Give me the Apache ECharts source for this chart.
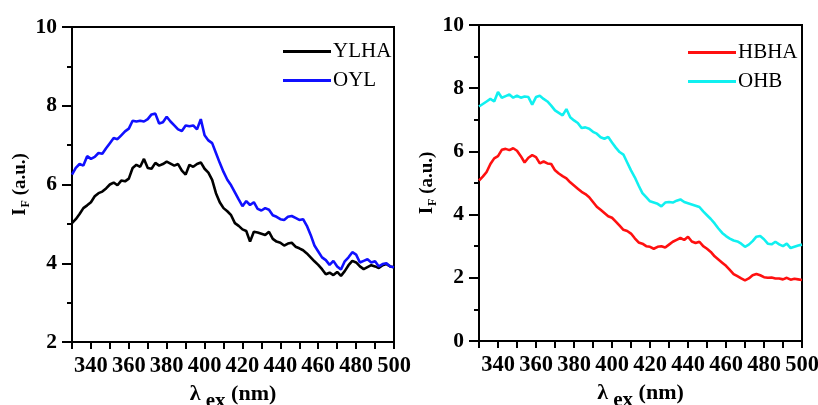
<!DOCTYPE html>
<html>
<head>
<meta charset="utf-8">
<script src="https://cdn.jsdelivr.net/npm/echarts@6/dist/echarts.min.js"></script>
<style>
  html, body { margin: 0; padding: 0; background: #fff; }
  #chart { width: 818px; height: 405px; }
</style>
</head>
<body>
<div id="chart"></div>
<script>
// Excitation wavelength grid (nm), shared by all four spectra
const wavelength = [
  330,332,334,336,338,340,342,344,346,348,350,352,354,356,358,360,362,364,366,368,
  370,372,374,376,378,380,382,384,386,388,390,392,394,396,398,400,402,404,406,408,
  410,412,414,416,418,420,422,424,426,428,430,432,434,436,438,440,442,444,446,448,
  450,452,454,456,458,460,462,464,466,468,470,472,474,476,478,480,482,484,486,488,
  490,492,494,496,498,500
];

// Left panel
const ylha = [
  5.02,5.12,5.25,5.40,5.47,5.55,5.70,5.78,5.82,5.90,6.00,6.05,5.98,6.10,6.08,6.15,6.42,6.50,6.45,6.65,
  6.42,6.40,6.55,6.48,6.52,6.58,6.53,6.48,6.52,6.35,6.25,6.50,6.45,6.52,6.56,6.40,6.30,6.12,5.78,5.55,
  5.40,5.32,5.22,5.02,4.95,4.86,4.82,4.55,4.80,4.78,4.75,4.72,4.80,4.62,4.55,4.52,4.45,4.50,4.52,4.42,
  4.38,4.33,4.25,4.15,4.05,3.96,3.85,3.72,3.76,3.70,3.78,3.68,3.80,3.95,4.06,4.02,3.92,3.85,3.90,3.95,
  3.92,3.88,3.95,3.98,3.92,3.90
];
const oyl = [
  6.25,6.42,6.52,6.48,6.72,6.65,6.70,6.80,6.78,6.92,7.05,7.18,7.15,7.25,7.35,7.42,7.62,7.60,7.62,7.60,
  7.66,7.78,7.80,7.55,7.58,7.72,7.60,7.50,7.40,7.36,7.50,7.48,7.50,7.40,7.66,7.25,7.12,7.05,6.80,6.55,
  6.32,6.12,5.98,5.80,5.62,5.45,5.58,5.48,5.55,5.38,5.34,5.40,5.36,5.22,5.18,5.12,5.10,5.18,5.20,5.15,
  5.10,5.12,4.95,4.72,4.45,4.30,4.15,4.08,3.96,4.06,3.92,3.84,4.05,4.15,4.28,4.22,4.02,4.06,4.10,4.02,
  4.05,3.92,3.98,4.00,3.92,3.90
];

// Right panel
const hbha = [
  5.08,5.20,5.35,5.60,5.78,5.85,6.05,6.08,6.04,6.10,6.02,5.85,5.65,5.80,5.88,5.82,5.62,5.68,5.62,5.60,
  5.40,5.30,5.22,5.15,5.02,4.92,4.82,4.72,4.65,4.55,4.40,4.25,4.15,4.05,3.95,3.90,3.78,3.65,3.52,3.48,
  3.40,3.25,3.12,3.08,3.00,2.98,2.92,2.98,3.00,2.96,3.05,3.14,3.20,3.26,3.20,3.30,3.15,3.10,3.14,3.00,
  2.92,2.82,2.68,2.58,2.48,2.38,2.25,2.12,2.05,1.98,1.92,1.98,2.08,2.12,2.08,2.02,2.00,2.01,1.98,1.98,
  1.95,2.00,1.94,1.97,1.95,1.93
];
const ohb = [
  7.42,7.50,7.58,7.66,7.58,7.88,7.70,7.75,7.80,7.70,7.76,7.70,7.74,7.72,7.48,7.72,7.76,7.66,7.58,7.45,
  7.30,7.22,7.14,7.34,7.08,6.98,6.90,6.74,6.76,6.72,6.62,6.56,6.45,6.40,6.46,6.28,6.12,5.98,5.90,5.65,
  5.40,5.18,4.92,4.68,4.55,4.42,4.38,4.34,4.26,4.38,4.40,4.38,4.44,4.48,4.40,4.36,4.32,4.28,4.24,4.10,
  3.98,3.86,3.72,3.56,3.42,3.32,3.24,3.18,3.15,3.08,2.98,3.05,3.16,3.30,3.32,3.22,3.08,3.06,3.14,3.06,
  3.00,3.08,2.94,2.98,3.02,3.05
];

// Axis settings
const xRange = [330, 500];
const xLabelStep = 20;
const xLabelStart = 340;
const leftYRange = [2, 10];
const rightYRange = [0, 10];

const serif = "'Liberation Serif', 'Times New Roman', serif";

function pairs(ys) {
  return wavelength.map((x, i) => [x, ys[i]]);
}

function xAxisFor(gridIndex) {
  return {
    type: 'value', gridIndex,
    min: xRange[0], max: xRange[1], interval: 10,
    axisLine: { show: true, onZero: false, lineStyle: { color: '#000', width: 2 } },
    axisTick: { show: true, inside: false, length: 7, lineStyle: { color: '#000', width: 2 } },
    axisLabel: {
      show: true, margin: 13, showMinLabel: true, showMaxLabel: true,
      color: '#000', fontFamily: serif, fontWeight: 'bold', fontSize: 22.5,
      formatter: v => ((v - xLabelStart) % xLabelStep === 0 ? String(v) : '')
    },
    splitLine: { show: false },
    name: '{l|λ}{s| ex}{n| (nm)}',
    nameLocation: 'middle', nameGap: 31,
    nameTextStyle: {
      color: '#000', fontFamily: serif, fontWeight: 'bold', fontSize: 22,
      rich: {
        l: { fontFamily: serif, fontWeight: 'bold', fontSize: 22, color: '#000' },
        s: { fontFamily: serif, fontWeight: 'bold', fontSize: 21, color: '#000', padding: [16, 0, 0, 0] },
        n: { fontFamily: serif, fontWeight: 'bold', fontSize: 22, color: '#000' }
      }
    }
  };
}

function yAxisFor(gridIndex, range) {
  return {
    type: 'value', gridIndex,
    min: range[0], max: range[1], interval: 2,
    axisLine: { show: true, onZero: false, lineStyle: { color: '#000', width: 2 } },
    axisTick: { show: true, inside: false, length: 10, lineStyle: { color: '#000', width: 2 } },
    minorTick: { show: true, splitNumber: 2, length: 5, lineStyle: { color: '#000', width: 2 } },
    axisLabel: {
      show: true, margin: 15, showMinLabel: true, showMaxLabel: true,
      color: '#000', fontFamily: serif, fontWeight: 'bold', fontSize: 21.5
    },
    splitLine: { show: false },
    minorSplitLine: { show: false },
    name: '{i|I}{f|F}{n| (a.u.)}',
    nameLocation: 'middle', nameGap: 40, nameRotate: 90,
    nameTextStyle: {
      color: '#000', fontFamily: serif, fontWeight: 'bold', fontSize: 19,
      rich: {
        i: { fontFamily: serif, fontWeight: 'bold', fontSize: 19, color: '#000' },
        f: { fontFamily: serif, fontWeight: 'bold', fontSize: 12, color: '#000', padding: [12, 0, 0, 1] },
        n: { fontFamily: serif, fontWeight: 'bold', fontSize: 19, color: '#000' }
      }
    }
  };
}

function lineSeries(name, ys, color, axisIndex) {
  return {
    name, type: 'line', xAxisIndex: axisIndex, yAxisIndex: axisIndex,
    data: pairs(ys), symbol: 'none', smooth: false,
    lineStyle: { color, width: 2.6 }, itemStyle: { color },
    animation: false
  };
}

function legendFor(names, left, top) {
  return {
    data: names, orient: 'vertical', left, top,
    itemWidth: 48, itemHeight: 20, itemGap: 8,
    icon: 'path://M0,8.5 L48,8.5 L48,11.5 L0,11.5 Z',
    textStyle: { color: '#000', fontFamily: serif, fontSize: 21, padding: [0, 0, 0, -3] },
    selectedMode: false
  };
}

const chart = echarts.init(document.getElementById('chart'), null, { renderer: 'canvas' });
chart.setOption({
  backgroundColor: '#fff',
  animation: false,
  grid: [
    { left: 72, top: 27, right: 424, bottom: 63, show: true, borderColor: '#000', borderWidth: 2,
      containLabel: false, outerBoundsMode: 'none' },
    { left: 479, top: 25, right: 16, bottom: 64, show: true, borderColor: '#000', borderWidth: 2,
      containLabel: false, outerBoundsMode: 'none' }
  ],
  xAxis: [xAxisFor(0), xAxisFor(1)],
  yAxis: [yAxisFor(0, leftYRange), yAxisFor(1, rightYRange)],
  legend: [
    legendFor(['YLHA', 'OYL'], 278, 36),
    legendFor(['HBHA', 'OHB'], 683, 37)
  ],
  series: [
    lineSeries('YLHA', ylha, '#000000', 0),
    lineSeries('OYL', oyl, '#1010ff', 0),
    lineSeries('HBHA', hbha, '#ff1010', 1),
    lineSeries('OHB', ohb, '#10f0f0', 1)
  ]
});
</script>
</body>
</html>
